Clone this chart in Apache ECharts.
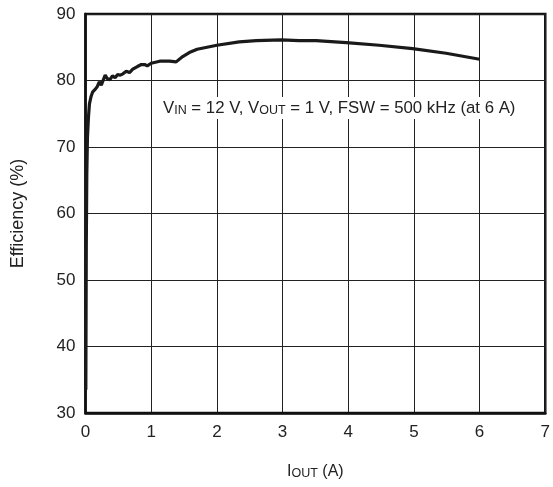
<!DOCTYPE html>
<html>
<head>
<meta charset="utf-8">
<script src="https://cdn.jsdelivr.net/npm/echarts@6/dist/echarts.min.js"></script>
<style>
  html, body { margin: 0; padding: 0; background: #fff; }
  #container { width: 553px; height: 487px; }
</style>
</head>
<body>
<div id="container"></div>
<script>
// output current (A)
const iout = [0.005, 0.012, 0.02, 0.03, 0.045, 0.06, 0.085, 0.11, 0.15, 0.18, 0.21, 0.24, 0.27, 0.3,
  0.33, 0.37, 0.41, 0.45, 0.49, 0.53, 0.57, 0.62, 0.67, 0.72, 0.79, 0.85, 0.9, 0.94, 1.0,
  1.13, 1.28, 1.38, 1.48, 1.58, 1.7, 1.85, 2.0, 2.34, 2.6, 2.98, 3.25, 3.51, 3.97, 4.47, 4.98, 5.49, 6.0];
// efficiency (%)
const eff = [33.5, 55, 66, 71.5, 74.5, 76.5, 77.6, 78.3, 78.7, 79.1, 79.8, 79.3, 79.6, 80.8,
  80.3, 80.1, 80.7, 80.4, 80.9, 80.8, 81.0, 81.4, 81.2, 81.7, 82.1, 82.4, 82.4, 82.2, 82.6,
  82.9, 82.9, 82.8, 83.6, 84.2, 84.7, 85.0, 85.3, 85.8, 86.0, 86.1, 86.0, 86.0, 85.7, 85.3, 84.8, 84.1, 83.2];

const xTicks = [0, 1, 2, 3, 4, 5, 6, 7];
const yTicks = [30, 40, 50, 60, 70, 80, 90];

const font = 'Liberation Sans, Arial, Helvetica, sans-serif';
const dom = document.getElementById('container');
const myChart = echarts.init(dom);

const option = {
  animation: false,
  backgroundColor: '#fff',
  grid: { left: 85.5, right: 7, top: 14, bottom: 74, show: true, borderColor: '#111', borderWidth: 2.5 },
  xAxis: {
    type: 'value',
    min: xTicks[0],
    max: xTicks[xTicks.length - 1],
    interval: 1,
    name: '{a|I}{s|OUT}{a| (A)}',
    nameLocation: 'middle',
    nameGap: 50,
    nameTextStyle: {
      rich: {
        a: { fontSize: 16, color: '#222', fontFamily: font },
        s: { fontSize: 12.5, color: '#222', fontFamily: font, verticalAlign: 'bottom', padding: [4, 0, 0, 0] }
      }
    },
    axisLine: { show: true, onZero: false, lineStyle: { color: '#111', width: 2.5 } },
    axisTick: { show: false },
    axisLabel: { color: '#222', fontSize: 17, fontFamily: font, margin: 11 },
    splitLine: { show: true, lineStyle: { color: '#222', width: 1 } }
  },
  yAxis: {
    type: 'value',
    min: yTicks[0],
    max: yTicks[yTicks.length - 1],
    interval: 10,
    name: 'Efficiency (%)',
    nameLocation: 'middle',
    nameGap: 58,
    nameTextStyle: { color: '#222', fontSize: 18, fontFamily: font },
    axisLine: { show: true, lineStyle: { color: '#111', width: 2.5 } },
    axisTick: { show: false },
    axisLabel: { color: '#222', fontSize: 17, fontFamily: font, margin: 10 },
    splitLine: { show: true, lineStyle: { color: '#222', width: 1 } }
  },
  graphic: [{
    type: 'text',
    left: 160,
    top: 97,
    z: 100,
    style: {
      text: '{a|V}{s|IN}{a| = 12 V, V}{s|OUT}{a| = 1 V, FSW = 500 kHz (at 6 A)}',
      backgroundColor: '#fff',
      padding: [2, 3, 2, 3],
      rich: {
        a: { fontSize: 16.8, fill: '#222', fontFamily: font },
        s: { fontSize: 12.5, fill: '#222', fontFamily: font, verticalAlign: 'bottom', padding: [5, 0, 0, 0] }
      }
    }
  }],
  series: [{
    type: 'line',
    data: iout.map((x, i) => [x, eff[i]]),
    showSymbol: false,
    smooth: false,
    lineStyle: { color: '#1a1a1a', width: 3.2 },
    z: 10
  }]
};

myChart.setOption(option);
</script>
</body>
</html>
